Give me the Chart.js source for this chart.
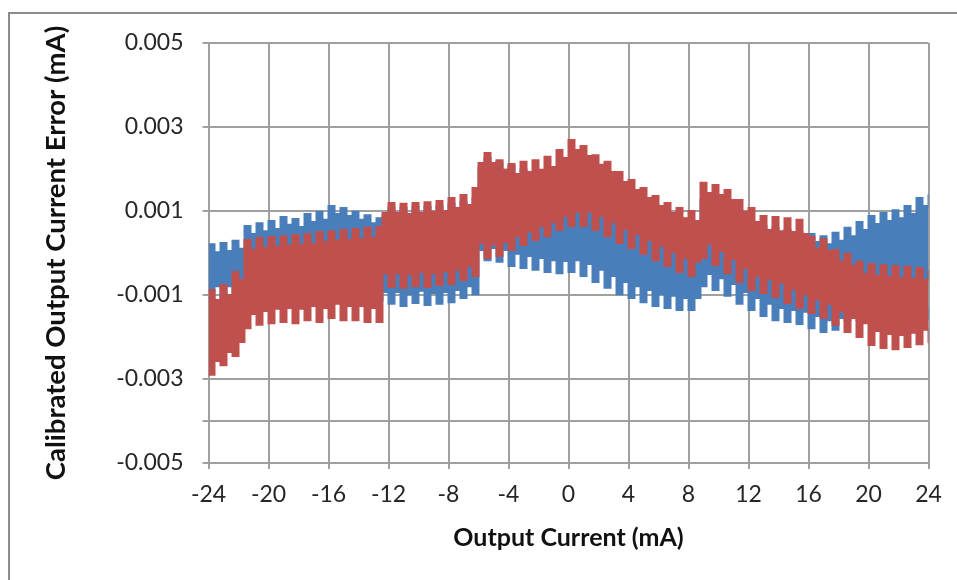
<!DOCTYPE html>
<html lang="en">
<head>
  <meta charset="UTF-8">
  <title>Calibrated Output Current Error</title>
  <script src="https://cdn.jsdelivr.net/npm/chart.js@4"></script>
  <style>
    html, body { margin: 0; padding: 0; background: #fff; }
    .wrap { position: relative; width: 957px; height: 580px; overflow: hidden; }
    /* chart frame: only top and left edges show in the picture */
    .frame {
      position: absolute; left: 8px; top: 12px; width: 1000px; height: 600px;
      border-top: 2px solid #8c8c8c; border-left: 2px solid #8c8c8c;
    }
    canvas { position: absolute; left: 0; top: 0; }
  </style>
</head>
<body>
<div class="wrap">
  <div class="frame"></div>
  <canvas id="chart" width="957" height="580"></canvas>
</div>

<script>
  // output current (mA), one point per half period of the ripple
  const outputCurrent = [
    -24, -23.6, -23.2, -22.8, -22.4, -22, -21.6, -21.2, -20.8, -20.4,
    -20, -19.6, -19.2, -18.8, -18.4, -18, -17.6, -17.2, -16.8, -16.4,
    -16, -15.6, -15.2, -14.8, -14.4, -14, -13.6, -13.2, -12.8, -12.4,
    -12, -11.6, -11.2, -10.8, -10.4, -10, -9.6, -9.2, -8.8, -8.4,
    -8, -7.6, -7.2, -6.8, -6.4, -6, -5.6, -5.2, -4.8, -4.4,
    -4, -3.6, -3.2, -2.8, -2.4, -2, -1.6, -1.2, -0.8, -0.4,
    0, 0.4, 0.8, 1.2, 1.6, 2, 2.4, 2.8, 3.2, 3.6,
    4, 4.4, 4.8, 5.2, 5.6, 6, 6.4, 6.8, 7.2, 7.6,
    8, 8.4, 8.8, 9.2, 9.6, 10, 10.4, 10.8, 11.2, 11.6,
    12, 12.4, 12.8, 13.2, 13.6, 14, 14.4, 14.8, 15.2, 15.6,
    16, 16.4, 16.8, 17.2, 17.6, 18, 18.4, 18.8, 19.2, 19.6,
    20, 20.4, 20.8, 21.2, 21.6, 22, 22.4, 22.8, 23.2, 23.6,
    24
  ];

  // error envelopes in uA, upper and lower edge of each trace
  const redUpper = [
    -0.88, -1.12, -0.76, -1.00, -0.45, -0.64, 0.31, 0.07, 0.36, 0.12,
    0.38, 0.14, 0.40, 0.17, 0.43, 0.19, 0.45, 0.21, 0.50, 0.26,
    0.52, 0.29, 0.55, 0.31, 0.57, 0.33, 0.60, 0.36, 0.62, 0.95,
    1.19, 0.95, 1.17, 0.93, 1.19, 0.95, 1.21, 0.98, 1.24, 1.00,
    1.31, 1.07, 1.38, 1.14, 1.55, 2.14, 2.38, 2.14, 2.21, 1.98,
    2.12, 1.88, 2.17, 1.93, 2.21, 1.98, 2.29, 2.05, 2.45, 2.26,
    2.69, 2.45, 2.55, 2.31, 2.33, 2.10, 2.17, 1.93, 1.93, 1.69,
    1.74, 1.50, 1.55, 1.31, 1.36, 1.12, 1.19, 0.95, 1.07, 0.83,
    1.00, 0.76, 1.67, 1.43, 1.62, 1.38, 1.50, 1.26, 1.26, 0.98,
    1.07, 0.74, 0.88, 0.55, 0.86, 0.52, 0.83, 0.50, 0.79, 0.45,
    0.38, 0.10, 0.33, 0.05, 0.07, -0.21, -0.02, -0.31, -0.21, -0.50,
    -0.26, -0.55, -0.29, -0.57, -0.31, -0.60, -0.33, -0.62, -0.36, -0.64,
    -0.40
  ];
  const redLower = [
    -2.90, -2.57, -2.67, -2.36, -2.45, -2.12, -1.79, -1.45, -1.71, -1.38,
    -1.67, -1.33, -1.64, -1.31, -1.67, -1.33, -1.60, -1.26, -1.64, -1.31,
    -1.55, -1.21, -1.60, -1.26, -1.60, -1.26, -1.64, -1.31, -1.64, -0.48,
    -0.81, -0.48, -0.83, -0.50, -0.79, -0.45, -0.81, -0.48, -0.76, -0.43,
    -0.74, -0.40, -0.64, -0.31, -0.55, 0.24, -0.12, 0.21, -0.07, 0.26,
    0.07, 0.40, 0.19, 0.52, 0.31, 0.64, 0.40, 0.74, 0.55, 0.88,
    0.64, 0.98, 0.64, 0.98, 0.55, 0.88, 0.40, 0.74, 0.24, 0.57,
    0.12, 0.45, -0.02, 0.31, -0.17, 0.17, -0.31, 0.02, -0.45, -0.12,
    -0.55, -0.21, -0.12, 0.21, -0.29, 0.05, -0.48, -0.14, -0.69, -0.36,
    -0.88, -0.55, -0.95, -0.62, -1.05, -0.71, -1.19, -0.86, -1.31, -0.98,
    -1.43, -1.10, -1.55, -1.21, -1.71, -1.38, -1.88, -1.55, -2.00, -1.67,
    -2.19, -1.86, -2.26, -1.93, -2.29, -1.95, -2.24, -1.90, -2.17, -1.83,
    -2.14
  ];
  const blueUpper = [
    0.21, 0.02, 0.24, 0.05, 0.29, 0.10, 0.64, 0.45, 0.71, 0.52,
    0.76, 0.57, 0.86, 0.67, 0.81, 0.62, 0.93, 0.74, 0.98, 0.79,
    1.12, 0.93, 1.07, 0.88, 0.98, 0.79, 0.90, 0.71, 0.83, 0.88,
    1.07, 0.88, 1.07, 0.88, 1.10, 0.90, 1.10, 0.90, 1.12, 0.93,
    1.17, 0.98, 1.21, 1.02, 1.31, 2.02, 2.26, 2.07, 2.17, 1.98,
    2.07, 1.88, 1.98, 1.79, 1.93, 1.74, 1.88, 1.69, 1.86, 1.67,
    1.83, 1.64, 1.79, 1.60, 1.69, 1.50, 1.60, 1.40, 1.45, 1.26,
    1.31, 1.12, 1.17, 0.98, 1.02, 0.83, 0.93, 0.74, 0.83, 0.64,
    0.74, 0.55, 1.26, 1.07, 1.17, 0.98, 1.02, 0.83, 0.88, 0.69,
    0.74, 0.55, 0.64, 0.45, 0.60, 0.40, 0.55, 0.36, 0.50, 0.31,
    0.45, 0.26, 0.40, 0.21, 0.48, 0.29, 0.60, 0.40, 0.74, 0.55,
    0.88, 0.69, 0.95, 0.76, 1.02, 0.83, 1.12, 0.93, 1.31, 1.12,
    1.40
  ];
  const blueLower = [
    -1.07, -0.79, -1.07, -0.79, -1.00, -0.71, -1.12, -0.83, -1.12, -0.83,
    -1.12, -0.83, -1.12, -0.83, -1.12, -0.83, -1.12, -0.83, -1.12, -0.83,
    -1.12, -0.83, -1.12, -0.83, -1.12, -0.83, -1.12, -0.83, -1.12, -0.93,
    -1.21, -0.93, -1.26, -0.98, -1.19, -0.90, -1.24, -0.95, -1.21, -0.93,
    -1.17, -0.88, -1.07, -0.79, -0.98, 0.07, -0.17, 0.12, -0.21, 0.07,
    -0.31, -0.02, -0.36, -0.07, -0.40, -0.12, -0.45, -0.17, -0.48, -0.19,
    -0.45, -0.17, -0.55, -0.26, -0.69, -0.40, -0.83, -0.55, -0.98, -0.69,
    -1.07, -0.79, -1.17, -0.88, -1.26, -0.98, -1.31, -1.02, -1.36, -1.07,
    -1.36, -1.07, -0.79, -0.50, -0.88, -0.60, -1.02, -0.74, -1.21, -0.93,
    -1.36, -1.07, -1.50, -1.21, -1.60, -1.31, -1.64, -1.36, -1.69, -1.40,
    -1.79, -1.50, -1.88, -1.60, -1.83, -1.55, -1.60, -1.31, -1.60, -1.31,
    -1.60, -1.31, -1.60, -1.31, -1.60, -1.31, -1.60, -1.31, -1.60, -1.31,
    -1.60
  ];

  // axis ticks
  const xTicks = [-24, -20, -16, -12, -8, -4, 0, 4, 8, 12, 16, 20, 24];
  const yGridLines = [-0.005, -0.004, -0.003, -0.001, 0.001, 0.003, 0.005];
  const yLabels = [-0.005, -0.003, -0.001, 0.001, 0.003, 0.005];

  const RED = '#c0504d';
  const BLUE = '#4a7ebb';
  const GRID = '#a0a0a0';

  function toPoints(vals) {
    // uA -> mA
    return outputCurrent.map((x, i) => ({ x: x, y: vals[i] / 1000 }));
  }

  function band(vals, color, fill) {
    return {
      data: toPoints(vals),
      borderColor: color,
      backgroundColor: color,
      borderWidth: 2,
      pointRadius: 0,
      stepped: true,
      fill: fill
    };
  }

  new Chart(document.getElementById('chart'), {
    type: 'line',
    data: {
      datasets: [
        band(redUpper, RED, '+1'),
        band(redLower, RED, false),
        band(blueUpper, BLUE, '+1'),
        band(blueLower, BLUE, false)
      ]
    },
    options: {
      responsive: false,
      animation: false,
      layout: { padding: { left: 10, top: 43, right: 28.5, bottom: 0 } },
      plugins: {
        legend: { display: false },
        tooltip: { enabled: false }
      },
      scales: {
        x: {
          type: 'linear',
          min: -24,
          max: 24,
          afterBuildTicks: s => { s.ticks = xTicks.map(v => ({ value: v })); },
          afterFit: s => { s.height = 117; },
          ticks: {
            autoSkip: false,
            maxRotation: 0,
            padding: 12,
            color: '#262626',
            font: { family: 'Lato', size: 23 },
            callback: v => String(v)
          },
          grid: { color: GRID, lineWidth: 2, tickLength: 6 },
          border: { color: GRID, width: 2 },
          title: {
            display: true,
            text: 'Output Current (mA)',
            color: '#111',
            font: { family: 'Lato', size: 25, weight: 'bold' },
            padding: { top: 0, bottom: 27 }
          }
        },
        y: {
          type: 'linear',
          min: -0.005,
          max: 0.005,
          afterBuildTicks: s => { s.ticks = yGridLines.map(v => ({ value: v })); },
          afterFit: s => { s.width = 198.5; },
          ticks: {
            padding: 19,
            color: '#262626',
            font: { family: 'Lato', size: 23 },
            callback: v => yLabels.includes(v) ? v.toFixed(3) : ''
          },
          grid: { color: GRID, lineWidth: 2, tickLength: 6 },
          border: { color: GRID, width: 2 },
          title: {
            display: true,
            text: 'Calibrated Output Current Error (mA)',
            color: '#111',
            font: { family: 'Lato', size: 27.5, weight: 'bold' },
            padding: { top: 30, bottom: 0 }
          }
        }
      }
    }
  });
</script>
</body>
</html>
